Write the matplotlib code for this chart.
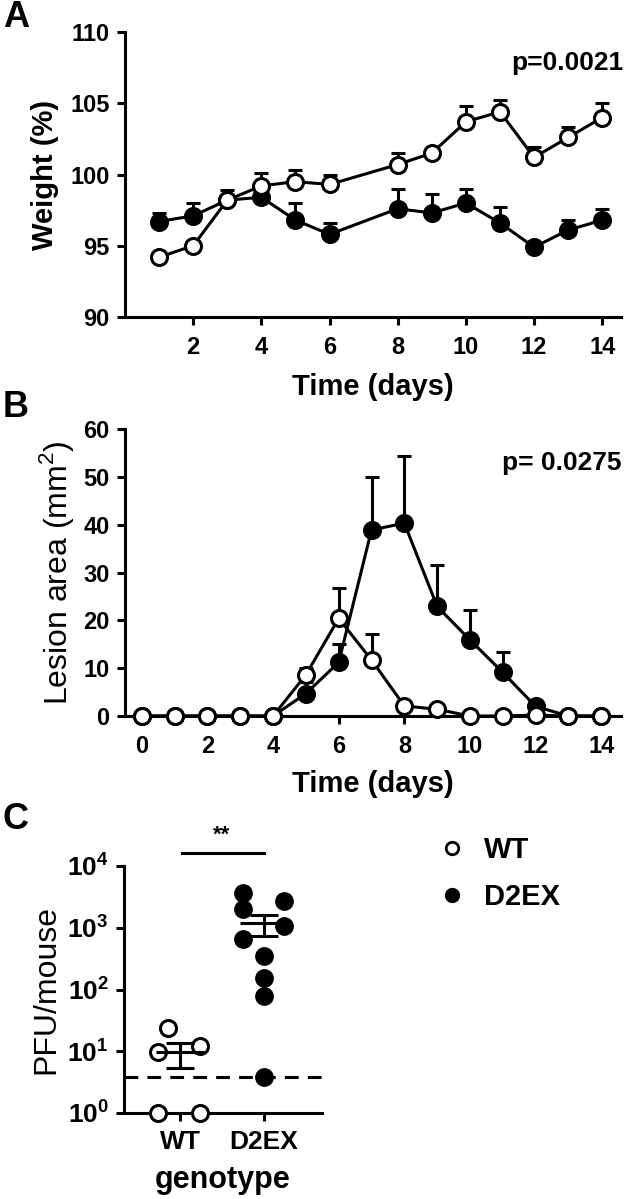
import numpy as np
import matplotlib
matplotlib.use("Agg")
import matplotlib.pyplot as plt
from matplotlib.lines import Line2D

plt.rcParams['font.family'] = ['Liberation Sans', 'DejaVu Sans']
plt.rcParams['mathtext.fontset'] = 'custom'
plt.rcParams['mathtext.rm'] = 'Liberation Sans'
plt.rcParams['mathtext.bf'] = 'Liberation Sans:bold'

# Panel A: weight (%)
days_a = [1, 2, 3, 4, 5, 6, 8, 9, 10, 11, 12, 13, 14]
wt_weight = [94.2, 95.0, 98.2, 99.2, 99.5, 99.3, 100.7, 101.5, 103.7, 104.4, 101.2, 102.6, 104.0]
wt_weight_err = [0.2, 0.2, 0.3, 0.9, 0.8, 0.7, 0.8, 0.2, 1.1, 0.8, 0.7, 0.7, 1.0]
d2_weight = [96.7, 97.1, 98.2, 98.4, 96.8, 95.8, 97.6, 97.3, 98.0, 96.6, 94.9, 96.1, 96.8]
d2_weight_err = [0.6, 0.9, 0.7, 0.7, 1.2, 0.8, 1.4, 1.3, 1.0, 1.1, 0.2, 0.7, 0.8]

# Panel B: lesion area (mm2)
days_b = [0, 1, 2, 3, 4, 5, 6, 7, 8, 9, 10, 11, 12, 13, 14]
wt_lesion = [0, 0, 0, 0, 0, 8.6, 20.4, 11.7, 2.1, 1.4, 0, 0, 0.2, 0, 0]
wt_lesion_err = [0, 0, 0, 0, 0, 1.5, 6.3, 5.4, 0.5, 0.4, 0, 0, 0.2, 0, 0]
d2_lesion = [0, 0, 0, 0, 0, 4.7, 11.2, 38.9, 40.3, 22.9, 15.9, 9.1, 2.0, 0, 0]
d2_lesion_err = [0, 0, 0, 0, 0, 2.5, 3.8, 11.0, 14.0, 8.6, 6.3, 4.2, 0.6, 0, 0]

# Panel C: PFU per mouse
genotypes = ['WT', 'D2EX']
wt_pfu = [24, 9.8, 12, 1, 1]
wt_jitter = [-0.14, -0.26, 0.24, -0.26, 0.24]
d2_pfu = [3600, 1980, 2700, 1065, 646, 348, 151, 78, 3.8]
d2_jitter = [-0.25, -0.25, 0.24, 0.24, -0.25, 0, 0, 0, 0]
detection_limit = 3.84
log_ticks = [1, 10, 100, 1000, 10000]
log_labels = [r'$\mathbf{10^{0}}$', r'$\mathbf{10^{1}}$', r'$\mathbf{10^{2}}$',
              r'$\mathbf{10^{3}}$', r'$\mathbf{10^{4}}$']

W, H = 626, 1199
fig = plt.figure(figsize=(W / 100, H / 100), dpi=100)

LW = 2.2
MS = 11.5


def px_axes(l, t, r, b):
    return fig.add_axes([l / W, 1 - b / H, (r - l) / W, (b - t) / H])


def style(ax):
    for s in ['top', 'right']:
        ax.spines[s].set_visible(False)
    for s in ['left', 'bottom']:
        ax.spines[s].set_linewidth(LW)
    ax.tick_params(width=LW, length=6, direction='out', labelsize=17, pad=5)
    for lab in ax.get_xticklabels() + ax.get_yticklabels():
        lab.set_fontweight('bold')


def series(ax, x, y, err, filled):
    fc = 'black' if filled else 'white'
    z = 3 if filled else 4
    ax.errorbar(x, y, yerr=[np.zeros(len(err)), err], fmt='none', ecolor='black',
                elinewidth=LW, capsize=5, capthick=LW, zorder=z, clip_on=False)
    ax.plot(x, y, '-o', color='black', lw=LW, ms=MS, mfc=fc, mec='black',
            mew=LW, zorder=z + 0.5, clip_on=False)


# ---- A ----
ax_a = px_axes(125, 32, 621, 317)
series(ax_a, days_a, d2_weight, d2_weight_err, True)
series(ax_a, days_a, wt_weight, wt_weight_err, False)
ax_a.set_xlim(0, 14.55)
ax_a.set_ylim(90, 110)
ax_a.set_xticks([2, 4, 6, 8, 10, 12, 14])
ax_a.set_yticks([90, 95, 100, 105, 110])
style(ax_a)
ax_a.tick_params(axis='x', pad=8)
ax_a.set_xlabel('Time (days)', fontsize=21, fontweight='bold', labelpad=10)
ax_a.set_ylabel('Weight (%)', fontsize=21, fontweight='bold', labelpad=8)
ax_a.text(1.005, 0.89, 'p=0.0021', transform=ax_a.transAxes, ha='right', va='center',
          fontsize=19, fontweight='bold')

# ---- B ----
ax_b = px_axes(125, 429, 621, 716)
series(ax_b, days_b, d2_lesion, d2_lesion_err, True)
series(ax_b, days_b, wt_lesion, wt_lesion_err, False)
ax_b.set_xlim(-0.51, 14.6)
ax_b.set_ylim(0, 60)
ax_b.set_xticks([0, 2, 4, 6, 8, 10, 12, 14])
ax_b.set_yticks([0, 10, 20, 30, 40, 50, 60])
style(ax_b)
ax_b.tick_params(axis='x', pad=8)
ax_b.set_xlabel('Time (days)', fontsize=21, fontweight='bold', labelpad=8)
ax_b.set_ylabel(r'Lesion area (mm$^{2}$)', fontsize=23, labelpad=5)
ax_b.text(1.0, 0.88, 'p= 0.0275', transform=ax_b.transAxes, ha='right', va='center',
          fontsize=19, fontweight='bold')

# ---- C ----
ax_c = px_axes(124, 866, 322, 1113)
ax_c.set_yscale('log')
ax_c.axhline(detection_limit, color='black', lw=LW, dashes=(4.5, 3), zorder=1)
ax_c.scatter(np.array(wt_jitter), wt_pfu, s=MS ** 2, facecolors='white',
             edgecolors='black', linewidths=LW, zorder=4, clip_on=False)
ax_c.scatter(1 + np.array(d2_jitter), d2_pfu, s=(MS + 1) ** 2, color='black',
             zorder=3, clip_on=False)
for i, vals in enumerate([wt_pfu, d2_pfu]):
    v = np.array(vals, dtype=float)
    m = v.mean()
    se = v.std(ddof=1) / np.sqrt(len(v))
    ax_c.hlines(m, i - 0.29, i + 0.29, color='black', lw=LW, zorder=5)
    ax_c.vlines(i, m - se, m + se, color='black', lw=LW, zorder=5)
    ax_c.hlines([m - se, m + se], i - 0.17, i + 0.17, color='black', lw=LW, zorder=5)
ax_c.set_xlim(-0.667, 1.69)
ax_c.set_ylim(1, 1e4)
ax_c.set_xticks([0, 1], labels=genotypes)
ax_c.set_yticks(log_ticks, labels=log_labels)
style(ax_c)
ax_c.tick_params(axis='y', labelsize=19)
ax_c.tick_params(axis='x', labelsize=19, pad=6)
ax_c.tick_params(axis='y', which='minor', length=3, width=1.5)
ax_c.set_xlabel('genotype', fontsize=22, fontweight='bold', labelpad=8)
ax_c.set_ylabel('PFU/mouse', fontsize=23, labelpad=4)
ax_c.plot([0.02, 1.0], [16200, 16200], color='black', lw=LW, clip_on=False)
ax_c.text(0.5, 21000, '**', ha='center', va='bottom', fontsize=16, fontweight='bold')

handles = [Line2D([], [], ls='none', marker='o', ms=9, mfc='white', mec='black', mew=2),
           Line2D([], [], ls='none', marker='o', ms=10, mfc='black', mec='black')]
fig.legend(handles, genotypes, loc='upper left', bbox_to_anchor=(408 / W, 1 - 810 / H),
           frameon=False, prop={'size': 21, 'weight': 'bold'}, handletextpad=0.5,
           labelspacing=0.65, handlelength=1.2)

# panel letters
for letter, y in [('A', 0), ('B', 390), ('C', 802)]:
    fig.text(3 / W, 1 - y / H, letter, fontsize=26, fontweight='bold', va='top', ha='left')

fig.savefig('out.png', dpi=100)
